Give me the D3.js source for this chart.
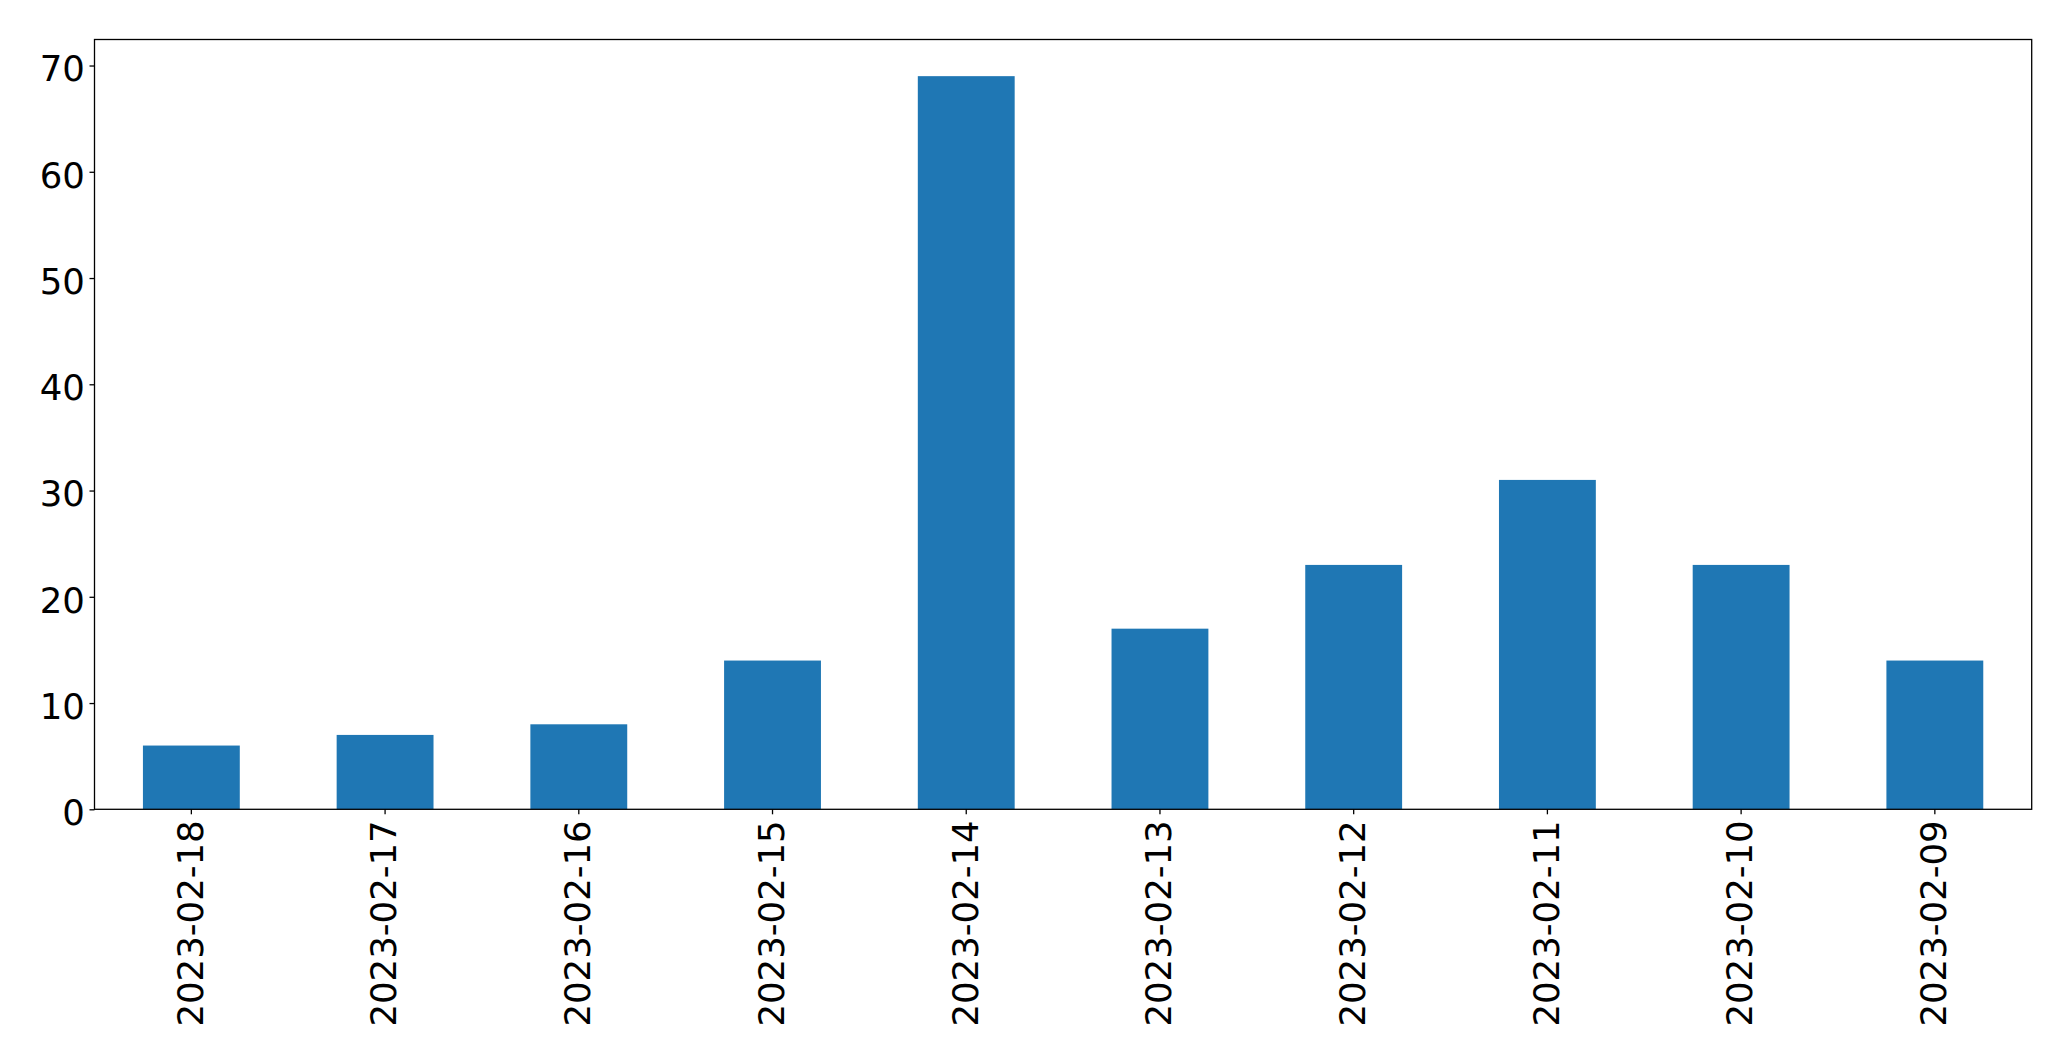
<!DOCTYPE html>
<html>
<head>
<meta charset="utf-8">
<script src="https://cdn.jsdelivr.net/npm/d3@7"></script>
<style>
  html, body { margin: 0; padding: 0; background: #fff; }
  svg { display: block; }
  text { font-family: "DejaVu Sans", sans-serif; fill: #000; }
</style>
</head>
<body>
<svg id="chart" width="2071" height="1061"></svg>
<script>
const categories = ["2023-02-18","2023-02-17","2023-02-16","2023-02-15","2023-02-14","2023-02-13","2023-02-12","2023-02-11","2023-02-10","2023-02-09"];
const values = [6, 7, 8, 14, 69, 17, 23, 31, 23, 14];
const yTicks = [0, 10, 20, 30, 40, 50, 60, 70];

const W = 2071, H = 1061;
const margin = { left: 94.5, right: W - 2031.7, top: 39.5, bottom: H - 809.3 };
const innerW = W - margin.left - margin.right;
const innerH = H - margin.top - margin.bottom;
const fontSize = 35.5;

const svg = d3.select("#chart");
const g = svg.append("g").attr("transform", `translate(${margin.left},${margin.top})`);

const x = d3.scaleBand().domain(categories).range([0, innerW]).paddingInner(0.5).paddingOuter(0.25);
const yMax = d3.max(values) * 1.05;
const y = d3.scaleLinear().domain([0, yMax]).range([innerH, 0]);

g.selectAll("rect.bar").data(values).join("rect")
  .attr("class", "bar")
  .attr("x", (d, i) => x(categories[i]))
  .attr("width", x.bandwidth())
  .attr("y", d => y(d))
  .attr("height", d => innerH - y(d))
  .attr("fill", "#1f77b4");

// Y axis
const yAxis = g.append("g").call(d3.axisLeft(y).tickValues(yTicks).tickSize(5).tickPadding(4.7).tickSizeOuter(0));
yAxis.select(".domain").remove();
yAxis.selectAll(".tick line").attr("stroke", "#000").attr("stroke-width", 1.3);
yAxis.selectAll(".tick text")
  .attr("font-size", fontSize)
  .attr("font-family", "DejaVu Sans")
  .attr("dy", "0.43em");

// X axis
const xAxis = g.append("g").attr("transform", `translate(0,${innerH})`)
  .call(d3.axisBottom(x).tickSize(5).tickSizeOuter(0));
xAxis.select(".domain").remove();
xAxis.selectAll(".tick line").attr("stroke", "#000").attr("stroke-width", 1.3);
xAxis.selectAll(".tick text")
  .attr("font-size", fontSize)
  .attr("font-family", "DejaVu Sans")
  .attr("text-anchor", "end")
  .attr("transform", "translate(0,11) rotate(-90)")
  .attr("x", 0)
  .attr("y", 0)
  .attr("dy", "0.32em");

// Frame
g.append("rect")
  .attr("x", 0).attr("y", 0)
  .attr("width", innerW).attr("height", innerH)
  .attr("fill", "none")
  .attr("stroke", "#000")
  .attr("stroke-width", 1.3);
</script>
</body>
</html>
